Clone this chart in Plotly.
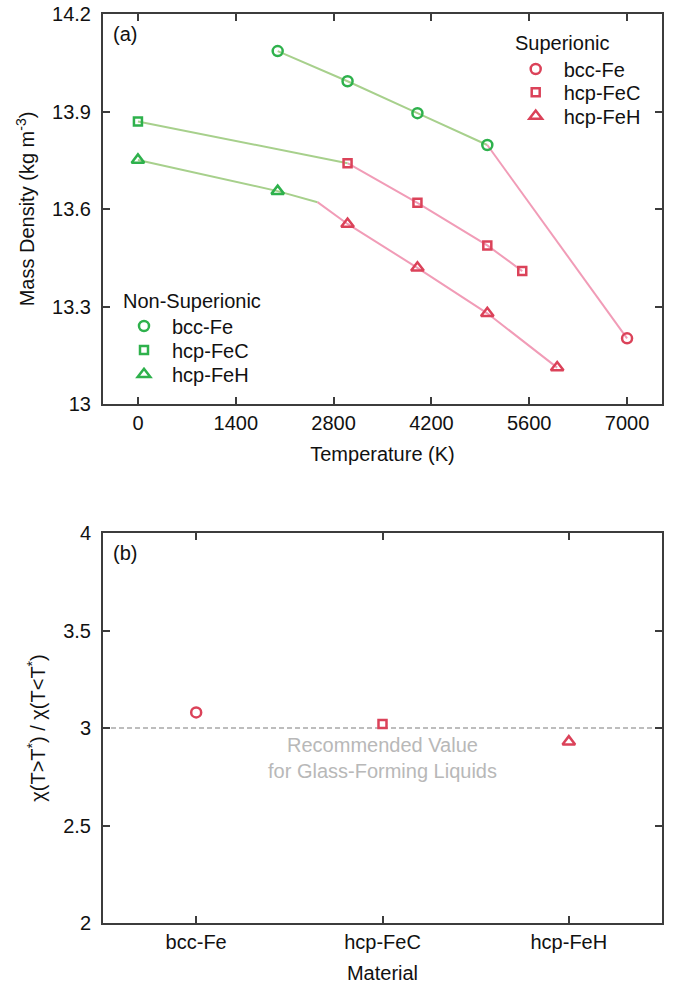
import plotly.graph_objects as go

W, H = 678, 988

materials = ["bcc-Fe", "hcp-FeC", "hcp-FeH"]
symbols = ["circle-open", "square-open", "triangle-up-open"]
marker_sizes = [10, 8, 11]

# Mass density vs temperature, below (non-superionic) and above (superionic) the transition
nonsup_T = [[2000, 3000, 4000, 5000], [0], [0, 2000]]
nonsup_rho = [[14.086, 13.993, 13.895, 13.797], [13.869], [13.751, 13.655]]
sup_T = [[7000], [3000, 4000, 5000, 5500], [3000, 4000, 5000, 6000]]
sup_rho = [[13.202], [13.741, 13.619, 13.488, 13.409], [13.554, 13.419, 13.279, 13.112]]
# points where the two branches meet
trans_T = [5000, 3000, 2570]
trans_rho = [13.797, 13.741, 13.621]

# ratio of compressibility-like slopes above/below T*
chi_ratio = [3.08, 3.02, 2.93]
recommended_ratio = 3.0

x_ticks_a = [0, 1400, 2800, 4200, 5600, 7000]
y_ticks_a = [13, 13.3, 13.6, 13.9, 14.2]
y_ticks_b = [2, 2.5, 3, 3.5, 4]

GREEN = "#2eb14c"
RED = "#db4259"
GREEN_LINE = "#a7d08c"
PINK_LINE = "#f19cb7"
AXIS = "#3c3c3c"
FONT = "Liberation Sans, Arial, sans-serif"
FS = 20


def px(x):
    return x / W


def py(y):
    return 1 - y / H


fig = go.Figure()

# branch lines
for i in range(3):
    gx = nonsup_T[i] + [trans_T[i]]
    gy = nonsup_rho[i] + [trans_rho[i]]
    fig.add_trace(go.Scatter(x=gx, y=gy, mode="lines", showlegend=False,
                             line=dict(color=GREEN_LINE, width=2),
                             xaxis="x", yaxis="y", hoverinfo="skip"))
    rx = [trans_T[i]] + sup_T[i]
    ry = [trans_rho[i]] + sup_rho[i]
    fig.add_trace(go.Scatter(x=rx, y=ry, mode="lines", showlegend=False,
                             line=dict(color=PINK_LINE, width=2),
                             xaxis="x", yaxis="y", hoverinfo="skip"))

# legend rows (pixel centres)
sup_rows = [69, 92.3, 116]
nonsup_rows = [326, 350, 374.3]
legend_layout = {}
for i, name in enumerate(materials):
    lg_n = "legend" if i == 0 else f"legend{i + 1}"
    lg_s = f"legend{i + 4}"
    fig.add_trace(go.Scatter(x=nonsup_T[i], y=nonsup_rho[i], mode="markers", name=name,
                             marker=dict(symbol=symbols[i], size=marker_sizes[i], color=GREEN,
                                         line=dict(color=GREEN, width=2.5)),
                             xaxis="x", yaxis="y", legend=lg_n))
    fig.add_trace(go.Scatter(x=sup_T[i], y=sup_rho[i], mode="markers", name=name,
                             marker=dict(symbol=symbols[i], size=marker_sizes[i], color=RED,
                                         line=dict(color=RED, width=2.5)),
                             xaxis="x", yaxis="y", legend=lg_s))
    common = dict(xanchor="left", yanchor="middle", bgcolor="rgba(0,0,0,0)",
                  borderwidth=0, itemwidth=46, font=dict(family=FONT, size=FS, color="#111"))
    legend_layout[lg_n] = dict(x=px(116), y=py(nonsup_rows[i]), **common)
    legend_layout[lg_s] = dict(x=px(507.7), y=py(sup_rows[i]), **common)

# panel (b) markers
for i, name in enumerate(materials):
    fig.add_trace(go.Scatter(x=[name], y=[chi_ratio[i]], mode="markers", showlegend=False,
                             marker=dict(symbol=symbols[i], size=marker_sizes[i], color=RED,
                                         line=dict(color=RED, width=2.5)),
                             xaxis="x2", yaxis="y2"))

axis_common = dict(showline=True, linecolor=AXIS, linewidth=2, mirror="ticks",
                   ticks="inside", ticklen=7, tickwidth=1.5, tickcolor=AXIS,
                   showgrid=False, zeroline=False, automargin=False,
                   tickfont=dict(family=FONT, size=FS, color="#111"))

fig.update_layout(
    width=W, height=H,
    margin=dict(l=0, r=0, t=0, b=0, pad=0, autoexpand=False),
    paper_bgcolor="white", plot_bgcolor="white",
    font=dict(family=FONT, size=FS, color="#111"),
    xaxis=dict(domain=[px(103), px(662)], range=[-500, 7500], anchor="y",
               tickmode="array", tickvals=x_ticks_a,
               title=dict(text="Temperature (K)", standoff=14,
                          font=dict(family=FONT, size=FS, color="#111")),
               **axis_common),
    yaxis=dict(domain=[py(404), py(14)], range=[13, 14.2], anchor="x",
               tickmode="array", tickvals=y_ticks_a, ticklabelstandoff=6,
               title=dict(text="Mass Density (kg m<sup>-3</sup>)", standoff=12,
                          font=dict(family=FONT, size=FS, color="#111")),
               **axis_common),
    xaxis2=dict(domain=[px(103), px(662)], range=[-0.5, 2.5], anchor="y2",
                type="category", categoryarray=materials,
                title=dict(text="Material", standoff=14,
                           font=dict(family=FONT, size=FS, color="#111")),
                **axis_common),
    yaxis2=dict(domain=[py(923), py(533)], range=[2, 4], anchor="x2",
                tickmode="array", tickvals=y_ticks_b, ticklabelstandoff=6,
                title=dict(text="\u03c7(T&gt;T<sup>*</sup>) / \u03c7(T&lt;T<sup>*</sup>)", standoff=12,
                           font=dict(family=FONT, size=FS, color="#111")),
                **axis_common),
    shapes=[dict(type="line", xref="x2 domain", yref="y2", x0=0, x1=1,
                 y0=recommended_ratio, y1=recommended_ratio,
                 line=dict(color="#a8a8a8", width=1.5, dash="5px,3px"), layer="below")],
    annotations=[
        dict(text="(a)", xref="paper", yref="paper", x=px(111), y=py(34),
             xanchor="left", yanchor="middle", showarrow=False, font=dict(size=FS)),
        dict(text="(b)", xref="paper", yref="paper", x=px(111), y=py(553),
             xanchor="left", yanchor="middle", showarrow=False, font=dict(size=FS)),
        dict(text="Superionic", xref="paper", yref="paper", x=px(513), y=py(43),
             xanchor="left", yanchor="middle", showarrow=False, font=dict(size=FS)),
        dict(text="Non-Superionic", xref="paper", yref="paper", x=px(121), y=py(301),
             xanchor="left", yanchor="middle", showarrow=False, font=dict(size=FS)),
        dict(text="Recommended Value<br>for Glass-Forming Liquids", xref="x2", yref="y2",
             x="hcp-FeC", y=2.845, xanchor="center", yanchor="middle", showarrow=False,
             font=dict(size=FS, color="#b8b8b8")),
    ],
    **legend_layout,
)

fig.write_html("out.html")
